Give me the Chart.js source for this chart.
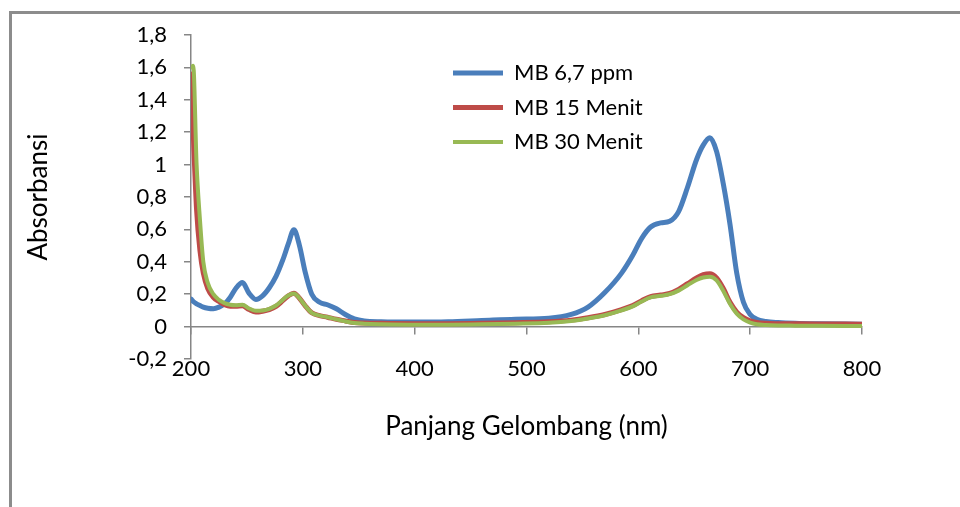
<!DOCTYPE html>
<html><head><meta charset="utf-8">
<script src="https://cdn.jsdelivr.net/npm/chart.js@4"></script>
<style>
html,body{margin:0;padding:0;background:#fff;}
#wrap{position:relative;width:960px;height:507px;overflow:hidden;background:#fff;}
#frame{position:absolute;left:9px;top:11px;width:960px;height:500px;border-left:3px solid #8c8c8c;border-top:3px solid #8c8c8c;box-sizing:border-box;pointer-events:none;}
canvas{position:absolute;left:0;top:0;}
</style></head><body>
<div id="wrap"><canvas id="c" width="960" height="507"></canvas><div id="frame"></div></div>
<script>
const wavelengths = [200,202,205,208,211,215,220,225,230,235,240,246,252,258,264,270,276,282,287,292,297,302,308,315,322,330,338,346,355,370,400,430,460,490,520,540,555,570,585,595,603,611,620,628,636,644,652,658,664,670,676,682,688,694,700,706,714,725,740,760,800];
const mb67 = [0.17,0.155,0.14,0.13,0.12,0.113,0.11,0.12,0.14,0.18,0.235,0.272,0.205,0.168,0.19,0.24,0.31,0.41,0.51,0.598,0.50,0.34,0.2,0.15,0.135,0.11,0.075,0.048,0.035,0.03,0.028,0.03,0.038,0.046,0.052,0.075,0.12,0.21,0.33,0.44,0.545,0.615,0.64,0.65,0.71,0.86,1.03,1.12,1.165,1.08,0.88,0.63,0.33,0.15,0.075,0.045,0.032,0.025,0.02,0.017,0.015];
const mb15 = [1.56,1.2,0.72,0.47,0.33,0.235,0.18,0.155,0.135,0.125,0.125,0.128,0.105,0.09,0.095,0.105,0.125,0.16,0.19,0.206,0.175,0.13,0.085,0.068,0.058,0.045,0.035,0.025,0.022,0.02,0.018,0.018,0.02,0.024,0.03,0.04,0.055,0.075,0.105,0.13,0.16,0.185,0.195,0.205,0.23,0.265,0.3,0.32,0.326,0.3,0.235,0.15,0.09,0.055,0.035,0.025,0.02,0.018,0.017,0.016,0.015];
const mb30 = [1.6,1.61,1.0,0.66,0.4,0.27,0.2,0.165,0.145,0.135,0.132,0.135,0.112,0.098,0.1,0.11,0.13,0.165,0.192,0.205,0.175,0.13,0.085,0.068,0.058,0.045,0.032,0.022,0.018,0.015,0.012,0.012,0.014,0.018,0.024,0.035,0.05,0.07,0.1,0.125,0.155,0.18,0.19,0.2,0.222,0.255,0.288,0.303,0.308,0.285,0.22,0.14,0.08,0.045,0.025,0.015,0.01,0.007,0.006,0.005,0.004];
const seriesNames = ['MB 6,7 ppm','MB 15 Menit','MB 30 Menit'];
const yTickLabels = ['-0,2','0','0,2','0,4','0,6','0,8','1','1,2','1,4','1,6','1,8'];
const xTickLabels = ['200','300','400','500','600','700','800'];

const FONT = 'Lato, Carlito, Calibri, sans-serif';
const AXIS = '#868686';
const toPts = arr => wavelengths.map((w, i) => ({x: w, y: arr[i]}));

const legendPlace = {
  id: 'legendPlace',
  afterLayout(chart) {
    const lg = chart.legend;
    const w = lg.width, h = lg.height;
    lg.left = 440.5; lg.top = 49.5;
    lg.right = lg.left + w; lg.bottom = lg.top + h;
  }
};

new Chart(document.getElementById('c'), {
  type: 'line',
  data: {
    datasets: [
      {label: seriesNames[0], data: toPts(mb67), borderColor: '#4A7EBB', backgroundColor: '#4A7EBB', borderWidth: 5, order: 2},
      {label: seriesNames[1], data: toPts(mb15), borderColor: '#BE4B48', backgroundColor: '#BE4B48', borderWidth: 5, order: 1},
      {label: seriesNames[2], data: toPts(mb30), borderColor: '#98B954', backgroundColor: '#98B954', borderWidth: 4, order: 0}
    ]
  },
  options: {
    responsive: false,
    animation: false,
    layout: {padding: {left: 0, top: 35, right: 98, bottom: 148}},
    elements: {
      point: {radius: 0, hoverRadius: 0},
      line: {cubicInterpolationMode: 'monotone', borderCapStyle: 'round', borderJoinStyle: 'round'}
    },
    plugins: {
      tooltip: {enabled: false},
      legend: {
        position: 'chartArea',
        align: 'start',
        labels: {
          usePointStyle: true, pointStyle: 'line', pointStyleWidth: 50,
          padding: 12.5, color: '#000',
          font: {family: FONT, size: 22},
          sort: (a, b) => a.datasetIndex - b.datasetIndex
        }
      }
    },
    scales: {
      x: {
        type: 'linear', position: {y: 0}, min: 200, max: 800,
        ticks: {stepSize: 100, padding: 22, color: '#000', font: {family: FONT, size: 22}, maxRotation: 0,
          callback: (v, i) => xTickLabels[i] !== undefined ? xTickLabels[i] : String(v)},
        grid: {drawOnChartArea: false, drawTicks: true, tickLength: 7, color: AXIS, lineWidth: 1.5},
        border: {color: AXIS, width: 1.5},
        title: {display: true, text: 'Panjang Gelombang (nm)', color: '#000', font: {family: FONT, size: 26}, padding: {top: 7, bottom: 0}}
      },
      y: {
        min: -0.2, max: 1.8,
        ticks: {stepSize: 0.2, padding: 17, color: '#000', font: {family: FONT, size: 22},
          callback: (v, i) => yTickLabels[i] !== undefined ? yTickLabels[i] : String(v)},
        grid: {drawOnChartArea: false, drawTicks: true, tickLength: 7, color: AXIS, lineWidth: 1.5},
        border: {color: AXIS, width: 1.5},
        title: {display: true, text: 'Absorbansi', color: '#000', font: {family: FONT, size: 26}, padding: {top: 23, bottom: 0}},
        afterFit(s) { s.width = 191; }
      }
    }
  },
  plugins: [legendPlace]
});
</script>
</body></html>
